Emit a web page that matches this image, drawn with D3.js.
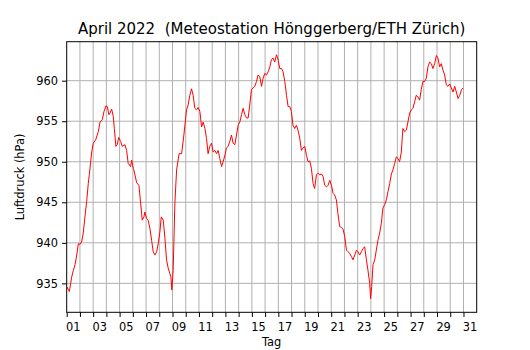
<!DOCTYPE html>
<html>
<head>
<meta charset="utf-8">
<script src="https://cdn.jsdelivr.net/npm/d3@7"></script>
<style>
  body { margin: 0; background: #fff; }
  svg text { font-family: "DejaVu Sans", sans-serif; fill: #000; }
</style>
</head>
<body>
<svg id="chart" width="530" height="350"></svg>
<script>
// Luftdruck Hönggerberg, April 2022
var days = [1.00, 1.20, 1.38, 1.50, 1.63, 1.76, 1.88, 2.00, 2.13, 2.25, 2.38, 2.51, 2.63, 2.71, 2.89, 3.01,
  3.19, 3.39, 3.52, 3.69, 3.82, 3.97, 4.07, 4.19, 4.27, 4.40, 4.52, 4.60, 4.72, 4.82, 4.93, 5.08,
  5.20, 5.40, 5.53, 5.65, 5.83, 5.91, 6.03, 6.08, 6.29, 6.46, 6.59, 6.71, 6.84, 6.91, 7.04, 7.16,
  7.29, 7.42, 7.54, 7.67, 7.80, 7.92, 8.05, 8.15, 8.30, 8.42, 8.55, 8.67, 8.80, 8.88, 8.95, 9.05,
  9.18, 9.31, 9.50, 9.69, 9.86, 10.06, 10.18, 10.31, 10.44, 10.56, 10.69, 10.82, 10.94, 11.07, 11.20, 11.32,
  11.45, 11.57, 11.69, 11.82, 11.95, 12.07, 12.20, 12.33, 12.45, 12.58, 12.71, 12.83, 12.96, 13.08, 13.21, 13.33,
  13.46, 13.58, 13.71, 13.84, 13.96, 14.09, 14.22, 14.34, 14.47, 14.60, 14.72, 14.84, 14.97, 15.09, 15.22, 15.35,
  15.47, 15.60, 15.73, 15.85, 15.98, 16.11, 16.23, 16.36, 16.48, 16.60, 16.73, 16.86, 16.98, 17.11, 17.24, 17.36,
  17.49, 17.62, 17.74, 17.87, 17.99, 18.11, 18.24, 18.37, 18.49, 18.62, 18.75, 18.87, 19.00, 19.13, 19.25, 19.38,
  19.50, 19.63, 19.75, 19.88, 20.00, 20.13, 20.26, 20.38, 20.51, 20.64, 20.76, 20.89, 21.02, 21.14, 21.26, 21.39,
  21.51, 21.64, 21.77, 21.89, 22.02, 22.15, 22.27, 22.40, 22.53, 22.65, 22.78, 22.91, 23.02, 23.15, 23.28, 23.40,
  23.53, 23.66, 23.78, 23.91, 23.98, 24.06, 24.16, 24.29, 24.41, 24.53, 24.66, 24.79, 24.91, 25.04, 25.17, 25.29,
  25.42, 25.55, 25.67, 25.80, 25.92, 26.05, 26.17, 26.30, 26.42, 26.55, 26.68, 26.80, 26.93, 27.06, 27.18, 27.31,
  27.43, 27.56, 27.68, 27.81, 27.93, 28.06, 28.19, 28.31, 28.44, 28.57, 28.69, 28.82, 28.95, 29.07, 29.20, 29.32,
  29.45, 29.58, 29.70, 29.83, 29.96, 30.08, 30.21, 30.34, 30.46, 30.59, 30.72, 30.85, 30.97]

var pressure = [934.6, 934.0, 935.8, 936.6, 937.3, 938.5, 939.9, 939.8, 940.1, 941.2, 943.2, 945.1, 947.3, 948.4, 951.2, 952.3,
  952.7, 953.7, 954.9, 955.2, 956.2, 956.9, 956.8, 955.8, 956.0, 956.5, 955.6, 954.1, 951.9, 952.1, 953.0, 952.5,
  951.9, 952.1, 951.4, 949.8, 949.4, 950.2, 949.2, 949.0, 947.4, 947.1, 944.9, 942.8, 943.2, 943.8, 943.0, 942.8,
  941.8, 940.3, 938.9, 938.5, 938.9, 939.9, 941.4, 943.2, 942.8, 940.7, 937.9, 936.9, 936.2, 935.8, 934.2, 936.6,
  944.9, 949.0, 951.0, 951.0, 953.3, 956.4, 957.0, 958.2, 959.0, 958.2, 956.6, 956.4, 956.7, 956.2, 954.3, 954.9,
  954.1, 952.9, 951.0, 951.9, 952.3, 951.2, 951.4, 951.0, 951.4, 950.4, 949.4, 950.0, 950.8, 951.7, 951.9, 952.5,
  953.3, 952.3, 952.1, 953.3, 954.5, 954.9, 955.8, 956.6, 955.8, 955.4, 955.4, 957.0, 958.9, 959.1, 959.3, 959.9,
  960.7, 960.5, 959.3, 960.3, 960.9, 960.7, 961.1, 961.7, 962.6, 962.8, 962.3, 963.2, 962.6, 961.5, 961.5, 961.1,
  959.9, 958.2, 956.8, 956.8, 956.2, 954.5, 954.1, 954.5, 953.9, 952.9, 951.4, 951.7, 951.9, 950.8, 950.0, 950.1,
  949.2, 947.3, 946.7, 948.4, 948.6, 948.4, 948.5, 948.2, 947.1, 946.9, 947.1, 947.7, 947.1, 946.1, 945.9, 945.3,
  943.6, 942.0, 941.9, 941.7, 940.8, 939.1, 938.9, 938.7, 938.3, 937.9, 938.5, 939.1, 938.9, 938.5, 938.9, 939.3,
  939.5, 937.9, 936.6, 935.0, 933.1, 934.6, 937.3, 937.9, 939.1, 940.3, 941.2, 942.4, 944.3, 944.7, 945.3, 946.3,
  947.3, 948.5, 949.0, 949.8, 950.6, 950.4, 950.0, 951.2, 954.1, 953.7, 953.9, 954.9, 956.0, 956.4, 956.6, 957.4,
  958.2, 958.0, 957.6, 958.9, 959.9, 959.9, 960.3, 961.7, 962.3, 962.1, 961.5, 962.1, 963.1, 962.8, 961.7, 962.1,
  961.3, 960.7, 959.5, 959.3, 959.6, 959.1, 958.6, 959.3, 958.6, 957.8, 958.2, 958.9, 959.1]

var yTicks = [935, 940, 945, 950, 955, 960]
var dayTicks = d3.range(1, 32)                 // Tagesgrenzen
var dayLabels = ["01", "03", "05", "07", "09", "11", "13", "15", "17", "19", "21", "23", "25", "27", "29", "31"]

var data = days.map(function(d, i) { return { day: d, p: pressure[i] } })

var margin = { left: 66.7, right: 53.3, top: 41.7, bottom: 37.7 }
var W = 530, H = 350

var svg = d3.select('#chart')

var x = d3.scaleLinear()
    .domain([1, 32])
    .range([margin.left, W - margin.right])

var y = d3.scaleLinear()
    .domain([931.43, 964.81])
    .range([H - margin.bottom, margin.top])

// grid
var grid = svg.append('g')
grid.selectAll('line.v')
    .data(dayTicks.slice(1))
    .enter().append('line')
    .attr('x1', function(d) { return x(d) }).attr('x2', function(d) { return x(d) })
    .attr('y1', y.range()[0]).attr('y2', y.range()[1])
    .attr('stroke', '#b0b0b0').attr('stroke-width', 1)
grid.selectAll('line.h')
    .data(yTicks)
    .enter().append('line')
    .attr('y1', function(d) { return y(d) }).attr('y2', function(d) { return y(d) })
    .attr('x1', x.range()[0]).attr('x2', x.range()[1])
    .attr('stroke', '#b0b0b0').attr('stroke-width', 1)

// clip
svg.append('clipPath').attr('id', 'clip')
    .append('rect')
    .attr('x', x.range()[0]).attr('y', y.range()[1])
    .attr('width', x.range()[1] - x.range()[0])
    .attr('height', y.range()[0] - y.range()[1])

var line = d3.line()
    .x(function(d) { return x(d.day) })
    .y(function(d) { return y(d.p) })

svg.append('path')
    .datum(data)
    .attr('clip-path', 'url(#clip)')
    .attr('d', line)
    .attr('fill', 'none')
    .attr('stroke', 'red')
    .attr('stroke-width', 1)
    .attr('stroke-linejoin', 'round')

// axes
var xAxis = d3.axisBottom(x)
    .tickValues(dayTicks)
    .tickSize(4.7)
    .tickFormat('')
var gx = svg.append('g')
    .attr('transform', 'translate(0,' + y.range()[0] + ')')
    .call(xAxis)
gx.select('.domain').remove()
gx.selectAll('line').attr('stroke', '#000').attr('stroke-width', 1)

// labels sit in the middle of each day
svg.append('g').selectAll('text')
    .data(dayLabels)
    .enter().append('text')
    .attr('x', function(d) { return x(+d + 0.5) })
    .attr('y', 331)
    .attr('text-anchor', 'middle')
    .style('font-size', '11.4px')
    .text(function(d) { return d })

var yAxis = d3.axisLeft(y)
    .tickValues(yTicks)
    .tickSize(4.7)
    .tickPadding(4)
var gy = svg.append('g')
    .attr('transform', 'translate(' + x.range()[0] + ',0)')
    .call(yAxis)
gy.select('.domain').remove()
gy.selectAll('line').attr('stroke', '#000').attr('stroke-width', 1)
gy.selectAll('text').style('font-size', '11.4px').style('font-family', '"DejaVu Sans", sans-serif')

// frame
svg.append('rect')
    .attr('x', x.range()[0]).attr('y', y.range()[1])
    .attr('width', x.range()[1] - x.range()[0])
    .attr('height', y.range()[0] - y.range()[1])
    .attr('fill', 'none').attr('stroke', '#000').attr('stroke-width', 1)

svg.append('text')
    .attr('x', (x.range()[0] + x.range()[1]) / 2)
    .attr('y', 33.7)
    .attr('text-anchor', 'middle')
    .style('font-size', '15px')
    .style('white-space', 'pre')
    .text('April 2022  (Meteostation Hönggerberg/ETH Zürich)')

svg.append('text')
    .attr('x', (x.range()[0] + x.range()[1]) / 2)
    .attr('y', 346)
    .attr('text-anchor', 'middle')
    .style('font-size', '11.4px')
    .text('Tag')

svg.append('text')
    .attr('transform', 'translate(24,' + (y.range()[0] + y.range()[1]) / 2 + ') rotate(-90)')
    .attr('text-anchor', 'middle')
    .style('font-size', '11.4px')
    .text('Luftdruck (hPa)')
</script>
</body>
</html>
